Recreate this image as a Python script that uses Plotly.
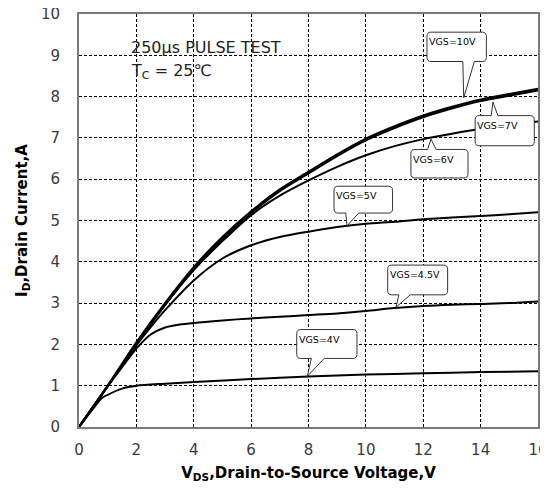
import plotly.graph_objects as go

# ---------------- data ----------------
vds_10 = [0, 1, 2, 3, 4, 5, 6, 7, 8, 9, 10, 11, 12, 13, 14, 15, 16]
id_10 = [0, 1.0, 2.05, 3.0, 3.87, 4.6, 5.22, 5.75, 6.18, 6.6, 6.98, 7.28, 7.54, 7.75, 7.93, 8.06, 8.19]

vds_7 = [0, 1, 2, 3, 4, 5, 6, 7, 8, 9, 10, 11, 12, 13, 14, 15, 16]
id_7 = [0, 0.99, 2.02, 2.96, 3.83, 4.56, 5.18, 5.71, 6.14, 6.56, 6.94, 7.24, 7.5, 7.71, 7.89, 8.02, 8.15]

vds_6 = [0, 1, 2, 3, 4, 5, 6, 7, 8, 9, 10, 11, 12, 13, 14, 15, 16]
id_6 = [0, 0.99, 2.0, 2.95, 3.8, 4.5, 5.13, 5.6, 5.97, 6.3, 6.58, 6.8, 6.97, 7.1, 7.22, 7.32, 7.4]

vds_5 = [0, 1, 2, 2.5, 3, 4, 5, 6, 7, 8, 9, 10, 11, 12, 13, 14, 15, 16]
id_5 = [0, 0.99, 1.98, 2.42, 2.83, 3.55, 4.08, 4.4, 4.6, 4.73, 4.84, 4.92, 4.97, 5.03, 5.07, 5.11, 5.15, 5.2]

vds_45 = [0, 0.5, 1, 1.5, 2, 2.5, 3, 3.5, 4, 5, 6, 7, 8, 9, 10, 11, 12, 13, 14, 15, 16]
id_45 = [0, 0.5, 0.98, 1.45, 1.9, 2.24, 2.41, 2.48, 2.52, 2.58, 2.63, 2.67, 2.71, 2.75, 2.81, 2.88, 2.93, 2.96, 2.98, 3.0, 3.04]

vds_4 = [0, 0.5, 0.8, 1, 1.5, 2, 3, 4, 6, 8, 10, 12, 14, 16]
id_4 = [0, 0.45, 0.7, 0.78, 0.93, 1.0, 1.05, 1.09, 1.16, 1.22, 1.27, 1.3, 1.33, 1.35]

x_ticks = [0, 2, 4, 6, 8, 10, 12, 14, 16]
y_ticks = [0, 1, 2, 3, 4, 5, 6, 7, 8, 9, 10]

# callouts: label, box x0, x1, y_top, y_bottom, tail side, tail base x0, x1, tip x, tip y
callouts = [
    ("VGS=10V", 12.13, 14.2, 9.56, 8.85, "bottom", 13.38, 13.78, 13.41, 7.97),
    ("VGS=7V", 13.81, 15.87, 7.54, 6.81, "top", 14.37, 14.6, 14.43, 7.87),
    ("VGS=6V", 11.57, 13.56, 6.72, 6.03, "top", 12.15, 12.45, 12.27, 6.97),
    ("VGS=5V", 8.89, 10.93, 5.83, 5.18, "bottom", 9.3, 9.75, 9.34, 4.87),
    ("VGS=4.5V", 10.76, 12.85, 3.92, 3.2, "bottom", 11.15, 11.55, 11.05, 2.9),
    ("VGS=4V", 7.59, 9.69, 2.36, 1.66, "bottom", 8.1, 8.55, 7.96, 1.23),
]

series = [
    (vds_4, id_4, "VGS=4V", 2),
    (vds_45, id_45, "VGS=4.5V", 2),
    (vds_5, id_5, "VGS=5V", 2),
    (vds_6, id_6, "VGS=6V", 2),
    (vds_7, id_7, "VGS=7V", 2),
    (vds_10, id_10, "VGS=10V", 2.2),
]

FONT = "DejaVu Sans, Verdana, sans-serif"

fig = go.Figure()
for xs, ys, name, w in series:
    fig.add_trace(go.Scatter(x=xs, y=ys, mode="lines", name=name,
                             line=dict(color="black", width=w, shape="spline", smoothing=0.8),
                             showlegend=False, hoverinfo="skip"))

rx, ry = 0.14, 0.1


def bubble(x0, x1, yt, yb, side, b0, b1, tx, ty):
    p = f"M {x0+rx},{yt} "
    if side == "top":
        p += f"L {b0},{yt} L {tx},{ty} L {b1},{yt} "
    p += f"L {x1-rx},{yt} Q {x1},{yt} {x1},{yt-ry} L {x1},{yb+ry} Q {x1},{yb} {x1-rx},{yb} "
    if side == "bottom":
        p += f"L {b1},{yb} L {tx},{ty} L {b0},{yb} "
    p += f"L {x0+rx},{yb} Q {x0},{yb} {x0},{yb+ry} L {x0},{yt-ry} Q {x0},{yt} {x0+rx},{yt} Z"
    return p


shapes = []
annotations = []
# white background behind top-left text
shapes.append(dict(type="rect", xref="x", yref="y", x0=1.55, x1=7.95, y0=8.25, y1=9.58,
                   fillcolor="white", line=dict(width=0), layer="below"))
for lab, x0, x1, yt, yb, side, b0, b1, tx, ty in callouts:
    shapes.append(dict(type="path", xref="x", yref="y", path=bubble(x0, x1, yt, yb, side, b0, b1, tx, ty),
                       fillcolor="white", line=dict(color="#333333", width=1)))
    annotations.append(dict(x=x0 + 0.01, y=yt - 0.05, xref="x", yref="y", text=lab, showarrow=False,
                            xanchor="left", yanchor="top",
                            font=dict(family=FONT, size=9.5, color="black")))

annotations.append(dict(x=1.75, y=9.2, xref="x", yref="y", text="250μs PULSE TEST", showarrow=False,
                        xanchor="left", yanchor="middle",
                        font=dict(family=FONT, size=16, color="#222")))
annotations.append(dict(x=1.75, y=8.6, xref="x", yref="y", text="T<sub>C</sub> = 25℃", showarrow=False,
                        xanchor="left", yanchor="middle",
                        font=dict(family=FONT, size=16, color="#222")))

axis_common = dict(
    showgrid=True, gridcolor="black", griddash="3px,2px", gridwidth=1,
    showline=True, linecolor="#7a7a7a", linewidth=2, mirror=True,
    zeroline=False, ticks="", automargin=False, ticklabeloverflow="allow",
    tickfont=dict(family=FONT, size=15, color="#3a3a3a"),
)

# the page body adds an 8px offset; the figure is kept small enough to avoid page scrollbars
fig.update_layout(
    width=540, height=475,
    margin=dict(l=71, r=10, t=6, b=56),
    paper_bgcolor="white", plot_bgcolor="white",
    shapes=shapes, annotations=annotations,
    xaxis=dict(range=[0, 16], tickvals=x_ticks, ticktext=[str(v) for v in x_ticks],
               ticklabelstandoff=8,
               title=dict(text="<b>V<sub>DS</sub>,Drain-to-Source Voltage,V</b>", standoff=12,
                          font=dict(family=FONT, size=15, color="black")),
               **axis_common),
    yaxis=dict(range=[0, 10], tickvals=y_ticks, ticktext=[str(v) for v in y_ticks],
               ticklabelstandoff=14,
               title=dict(text="<b>I<sub>D</sub>,Drain Current,A</b>", standoff=10,
                          font=dict(family=FONT, size=15, color="black")),
               **axis_common),
)

fig.write_html("out.html")
